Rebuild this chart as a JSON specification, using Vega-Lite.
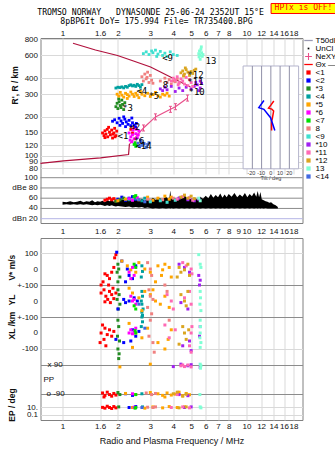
{
"$schema":"https://vega.github.io/schema/vega-lite/v6.json",
"background":"white",
"padding":{"left":6.5,"top":2,"right":0,"bottom":0},
"config":{
 "view":{"stroke":"#808080","strokeWidth":1},
 "font":"Liberation Sans",
 "axis":{"labelFont":"Liberation Sans","labelFontSize":8,"labelColor":"#111","titleFont":"Liberation Sans","titleColor":"#111","domain":false,"ticks":false,"gridColor":"#d9d9d9","gridWidth":1,"labelPadding":2}
},
"datasets":{
 "hbox":[{"f":13.6,"f2":31,"h":1271,"h2":1520}],
 "htxt":[{"f":20.4,"h":1390,"txt":"HPTx is OFF!"}],
 "hdr":[{"f":3.01,"h":1283,"txt":"TROMSO NORWAY\u00a0\u00a0\u00a0DYNASONDE 25-06-24 2352UT 15°E"},{"f":3.24,"h":1091,"txt":"8pBP6It DoY= 175.994 File= TR735400.BPG"}],
 "rt":[{"f":0.55,"h":352,"txt":"R', R / km"}],
 "prof":[
  {"s":"top","o":1,"f":1.14,"h":746},{"s":"top","o":2,"f":1.51,"h":662},{"s":"top","o":3,"f":1.99,"h":600},{"s":"top","o":4,"f":2.43,"h":543},{"s":"top","o":5,"f":3.01,"h":488},{"s":"top","o":6,"f":3.86,"h":408},{"s":"top","o":7,"f":4.96,"h":341},
  {"s":"low","o":1,"f":0.759,"h":87},{"s":"low","o":2,"f":1.013,"h":91},{"s":"low","o":3,"f":1.609,"h":96},{"s":"low","o":4,"f":2.285,"h":102},{"s":"low","o":5,"f":2.31,"h":123}
 ],
 "ne":[{"o":1,"f":2.31,"h":123},{"o":2,"f":2.755,"h":164},{"o":3,"f":3.2,"h":200},{"o":4,"f":3.86,"h":229},{"o":5,"f":4.11,"h":240},{"o":6,"f":4.78,"h":280}],
 "nem":[{"f":2.755,"h":164},{"f":3.2,"h":200},{"f":3.86,"h":229},{"f":4.11,"h":240},{"f":4.78,"h":280}],
 "pts":[
  {"c":"<1","f":1.65,"h":150},{"c":"<1","f":1.68,"h":143},{"c":"<1","f":1.7,"h":156},{"c":"<1","f":1.72,"h":147},{"c":"<1","f":1.75,"h":160},{"c":"<1","f":1.76,"h":140},{"c":"<1","f":1.8,"h":152},{"c":"<1","f":1.82,"h":145},{"c":"<1","f":1.85,"h":158},{"c":"<1","f":1.87,"h":137},{"c":"<1","f":1.9,"h":150},{"c":"<1","f":1.92,"h":163},{"c":"<1","f":1.95,"h":143},{"c":"<1","f":1.97,"h":155},{"c":"<1","f":1.78,"h":166},{"c":"<1","f":1.88,"h":147},{"c":"<1","f":1.7,"h":138},{"c":"<1","f":1.93,"h":140},{"c":"<1","f":2.35,"h":160},{"c":"<1","f":2.4,"h":150},{"c":"<1","f":2.45,"h":166},
  {"c":"<2","f":1.87,"h":185},{"c":"<2","f":1.92,"h":190},{"c":"<2","f":1.98,"h":180},{"c":"<2","f":2.03,"h":195},{"c":"<2","f":2.08,"h":186},{"c":"<2","f":2.12,"h":178},{"c":"<2","f":2.18,"h":192},{"c":"<2","f":2.22,"h":183},{"c":"<2","f":2.27,"h":175},{"c":"<2","f":2.3,"h":188},{"c":"<2","f":2.35,"h":171},{"c":"<2","f":2.4,"h":180},{"c":"<2","f":2.45,"h":173},{"c":"<2","f":2.5,"h":167},{"c":"<2","f":2.2,"h":168},{"c":"<2","f":2.05,"h":172},{"c":"<2","f":2.15,"h":200},{"c":"<2","f":2.38,"h":196},{"c":"<2","f":2.52,"h":178},
  {"c":"*3","f":1.95,"h":240},{"c":"*3","f":1.98,"h":255},{"c":"*3","f":2.0,"h":232},{"c":"*3","f":2.03,"h":262},{"c":"*3","f":2.06,"h":245},{"c":"*3","f":2.1,"h":270},{"c":"*3","f":2.12,"h":250},{"c":"*3","f":2.15,"h":228},{"c":"*3","f":2.08,"h":236},{"c":"*3","f":2.18,"h":258},{"c":"*3","f":2.02,"h":276},
  {"c":"<4","f":1.95,"h":335},{"c":"<4","f":2.0,"h":340},{"c":"<4","f":2.05,"h":338},{"c":"<4","f":2.1,"h":342},{"c":"<4","f":2.15,"h":336},{"c":"<4","f":2.2,"h":345},{"c":"<4","f":2.25,"h":340},{"c":"<4","f":2.3,"h":350},{"c":"<4","f":2.35,"h":355},{"c":"<4","f":2.4,"h":348},{"c":"<4","f":2.45,"h":352},{"c":"<4","f":2.5,"h":345},{"c":"<4","f":2.55,"h":358},{"c":"<4","f":2.6,"h":350},{"c":"<4","f":2.65,"h":340},{"c":"<4","f":2.7,"h":356},
  {"c":"*5","f":1.98,"h":300},{"c":"*5","f":2.02,"h":290},{"c":"*5","f":2.06,"h":310},{"c":"*5","f":2.1,"h":295},{"c":"*5","f":2.15,"h":285},{"c":"*5","f":2.2,"h":305},{"c":"*5","f":2.25,"h":298},{"c":"*5","f":2.3,"h":290},{"c":"*5","f":2.35,"h":312},{"c":"*5","f":2.4,"h":300},{"c":"*5","f":2.45,"h":288},{"c":"*5","f":2.5,"h":305},{"c":"*5","f":2.55,"h":295},{"c":"*5","f":2.6,"h":282},{"c":"*5","f":2.7,"h":300},{"c":"*5","f":2.8,"h":292},{"c":"*5","f":2.9,"h":305},{"c":"*5","f":3.0,"h":288},{"c":"*5","f":3.1,"h":298},{"c":"*5","f":3.2,"h":310},{"c":"*5","f":3.3,"h":292},{"c":"*5","f":3.4,"h":285},{"c":"*5","f":3.5,"h":300},{"c":"*5","f":3.6,"h":295},{"c":"*5","f":3.7,"h":305},{"c":"*5","f":3.8,"h":290},{"c":"*5","f":2.25,"h":278},{"c":"*5","f":2.65,"h":315},
  {"c":"*6","f":2.3,"h":150},{"c":"*6","f":2.35,"h":140},{"c":"*6","f":2.4,"h":145},{"c":"*6","f":2.45,"h":135},{"c":"*6","f":2.5,"h":148},{"c":"*6","f":2.55,"h":138},{"c":"*6","f":2.6,"h":155},{"c":"*6","f":2.38,"h":128},{"c":"*6","f":2.42,"h":158},{"c":"*6","f":2.48,"h":125},{"c":"*6","f":2.33,"h":132},{"c":"*6","f":2.58,"h":145},{"c":"*6","f":2.52,"h":160},
  {"c":"<7","f":2.45,"h":122},{"c":"<7","f":2.5,"h":118},{"c":"<7","f":2.48,"h":126},{"c":"<7","f":2.52,"h":121},
  {"c":"8","f":2.7,"h":410},{"c":"8","f":2.75,"h":380},{"c":"8","f":2.8,"h":430},{"c":"8","f":2.85,"h":395},{"c":"8","f":2.9,"h":445},{"c":"8","f":2.95,"h":370},{"c":"8","f":3.0,"h":420},{"c":"8","f":3.05,"h":385},{"c":"8","f":3.1,"h":365},{"c":"8","f":2.88,"h":405},{"c":"8","f":3.7,"h":370},{"c":"8","f":3.8,"h":390},{"c":"8","f":3.9,"h":360},{"c":"8","f":4.0,"h":380},{"c":"8","f":4.1,"h":375},{"c":"8","f":4.2,"h":395},{"c":"8","f":4.3,"h":365},{"c":"8","f":3.6,"h":400},{"c":"8","f":3.4,"h":380},
  {"c":"<9","f":2.75,"h":620},{"c":"<9","f":2.85,"h":640},{"c":"<9","f":2.95,"h":610},{"c":"<9","f":3.05,"h":650},{"c":"<9","f":3.1,"h":630},{"c":"<9","f":3.2,"h":660},{"c":"<9","f":3.3,"h":615},{"c":"<9","f":3.4,"h":645},{"c":"<9","f":3.5,"h":600},{"c":"<9","f":3.6,"h":625},{"c":"<9","f":3.7,"h":590},{"c":"<9","f":3.85,"h":640},{"c":"<9","f":4.0,"h":610},{"c":"<9","f":4.2,"h":600},{"c":"<9","f":3.25,"h":590},
  {"c":"*10","f":3.4,"h":330},{"c":"*10","f":3.5,"h":320},{"c":"*10","f":3.6,"h":340},{"c":"*10","f":3.7,"h":325},{"c":"*10","f":3.9,"h":345},{"c":"*10","f":4.1,"h":315},{"c":"*10","f":4.3,"h":335},{"c":"*10","f":4.5,"h":320},{"c":"*10","f":4.7,"h":340},{"c":"*10","f":5.0,"h":330},{"c":"*10","f":5.2,"h":345},{"c":"*10","f":5.4,"h":355},{"c":"*10","f":5.5,"h":320},{"c":"*10","f":5.6,"h":335},{"c":"*10","f":5.7,"h":365},{"c":"*10","f":5.3,"h":370},{"c":"*10","f":5.6,"h":380},
  {"c":"*11","f":4.0,"h":400},{"c":"*11","f":4.1,"h":385},{"c":"*11","f":4.2,"h":410},{"c":"*11","f":4.3,"h":370},{"c":"*11","f":4.4,"h":395},{"c":"*11","f":4.5,"h":380},{"c":"*11","f":4.6,"h":360},{"c":"*11","f":4.7,"h":405},{"c":"*11","f":4.8,"h":350},{"c":"*11","f":4.9,"h":390},{"c":"*11","f":5.0,"h":370},{"c":"*11","f":5.1,"h":345},{"c":"*11","f":4.25,"h":355},{"c":"*11","f":4.55,"h":420},{"c":"*11","f":3.9,"h":380},
  {"c":"*12","f":4.4,"h":440},{"c":"*12","f":4.5,"h":455},{"c":"*12","f":4.6,"h":430},{"c":"*12","f":4.7,"h":465},{"c":"*12","f":4.8,"h":445},{"c":"*12","f":4.9,"h":420},{"c":"*12","f":5.0,"h":450},{"c":"*12","f":5.1,"h":435},{"c":"*12","f":5.2,"h":460},{"c":"*12","f":4.55,"h":415},{"c":"*12","f":5.3,"h":470},{"c":"*12","f":4.65,"h":480},
  {"c":"13","f":5.5,"h":620},{"c":"13","f":5.55,"h":650},{"c":"13","f":5.6,"h":600},{"c":"13","f":5.65,"h":670},{"c":"13","f":5.7,"h":630},{"c":"13","f":5.75,"h":590},{"c":"13","f":5.6,"h":560},{"c":"13","f":5.52,"h":585},{"c":"13","f":5.8,"h":610},{"c":"13","f":5.68,"h":700},
  {"c":"<14","f":2.58,"h":125},{"c":"<14","f":2.62,"h":118},{"c":"<14","f":2.68,"h":128},{"c":"<14","f":2.72,"h":120},{"c":"<14","f":2.78,"h":124},{"c":"<14","f":2.85,"h":116},{"c":"<14","f":2.9,"h":122},{"c":"<14","f":2.95,"h":126},{"c":"<14","f":2.65,"h":132}
 ],
 "lbl":[{"t":"<1","f":1.99,"h":142},{"t":"<2","f":2.31,"h":167},{"t":"*3","f":2.11,"h":236},{"t":"<4","f":2.52,"h":315},{"t":"*5","f":2.93,"h":290},{"t":"*6","f":2.43,"h":131},{"t":"<14","f":2.49,"h":118},{"t":"8","f":3.5,"h":354},{"t":"<9","f":3.48,"h":576},{"t":"*10","f":4.84,"h":314},{"t":"*11","f":4.77,"h":375},{"t":"*12","f":4.77,"h":423},{"t":"13","f":5.99,"h":548}],
 "ibox":[{"t":-30,"t2":30,"h":79,"h2":497}],
 "igrid":[{"t":-20,"h":79,"h2":497},{"t":-10,"h":79,"h2":497},{"t":0,"h":79,"h2":497},{"t":10,"h":79,"h2":497},{"t":20,"h":79,"h2":497}],
 "itxt":[{"t":-21,"h":73.7,"txt":"-20"},{"t":-10.5,"h":73.7,"txt":"-10"},{"t":0,"h":73.7,"txt":"0"},{"t":10,"h":73.7,"txt":"10"},{"t":20,"h":73.7,"txt":"20"},{"t":0,"h":67.6,"txt":"Tilt / deg"}],
 "tilt":[
  {"s":"x","o":1,"t":3.2,"h":266},{"s":"x","o":2,"t":0,"h":247},{"s":"x","o":3,"t":-2.5,"h":234},{"s":"x","o":4,"t":1,"h":230},{"s":"x","o":5,"t":3,"h":222},{"s":"x","o":6,"t":1.5,"h":192},{"s":"x","o":7,"t":0.8,"h":186},{"s":"x","o":8,"t":0.8,"h":157},
  {"s":"y","o":1,"t":-7.5,"h":268},{"s":"y","o":2,"t":-13,"h":236},{"s":"y","o":3,"t":-7.5,"h":229},{"s":"y","o":4,"t":-0.3,"h":197},{"s":"y","o":5,"t":4.3,"h":157}
 ],
 "dgrid":[{"v":100,"k":"d","f":0.759,"f2":20.15},{"v":80,"k":"d","f":0.759,"f2":20.15},{"v":60,"k":"d","f":0.759,"f2":20.15},{"v":40,"k":"d","f":0.759,"f2":20.15},{"v":20,"k":"n","f":0.759,"f2":20.15}],
 "dlab":[{"v":100,"f":0.733,"txt":"100"},{"v":80,"f":0.733,"txt":"dBe 80"},{"v":60,"f":0.733,"txt":"60"},{"v":40,"f":0.733,"txt":"40"},{"v":20,"f":0.733,"txt":"dBn 20"}],
 "noise":[
  {"f":1.0,"lo":47,"hi":53},{"f":1.05,"lo":48,"hi":52},{"f":1.1,"lo":47,"hi":54},{"f":1.15,"lo":48,"hi":52},{"f":1.2,"lo":47,"hi":53},{"f":1.25,"lo":48,"hi":55},{"f":1.3,"lo":47,"hi":52},{"f":1.35,"lo":48,"hi":54},{"f":1.4,"lo":47,"hi":53},{"f":1.45,"lo":46,"hi":56},{"f":1.5,"lo":47,"hi":52},{"f":1.55,"lo":46,"hi":54},{"f":1.6,"lo":47,"hi":53},{"f":1.65,"lo":46,"hi":55},{"f":1.7,"lo":45,"hi":52},{"f":1.75,"lo":46,"hi":56},{"f":1.8,"lo":45,"hi":54},{"f":1.85,"lo":46,"hi":57},{"f":1.9,"lo":45,"hi":53},{"f":1.95,"lo":44,"hi":56},{"f":2.0,"lo":45,"hi":54},{"f":2.1,"lo":44,"hi":58},{"f":2.2,"lo":43,"hi":55},{"f":2.3,"lo":44,"hi":57},{"f":2.4,"lo":42,"hi":54},{"f":2.5,"lo":43,"hi":58},{"f":2.6,"lo":42,"hi":55},{"f":2.7,"lo":43,"hi":59},{"f":2.8,"lo":41,"hi":55},{"f":2.9,"lo":42,"hi":60},{"f":3.0,"lo":41,"hi":56},{"f":3.1,"lo":40,"hi":61},{"f":3.2,"lo":41,"hi":57},{"f":3.35,"lo":40,"hi":60},{"f":3.5,"lo":41,"hi":58},{"f":3.65,"lo":40,"hi":63},{"f":3.8,"lo":41,"hi":57},{"f":3.85,"lo":40,"hi":75},{"f":3.9,"lo":41,"hi":59},{"f":4.0,"lo":40,"hi":62},{"f":4.15,"lo":41,"hi":58},{"f":4.3,"lo":40,"hi":64},{"f":4.45,"lo":41,"hi":59},{"f":4.6,"lo":40,"hi":66},{"f":4.75,"lo":41,"hi":60},{"f":4.9,"lo":40,"hi":63},{"f":5.05,"lo":41,"hi":58},{"f":5.2,"lo":40,"hi":61},{"f":5.4,"lo":41,"hi":57},{"f":5.6,"lo":40,"hi":63},{"f":5.8,"lo":41,"hi":59},{"f":6.0,"lo":40,"hi":65},{"f":6.2,"lo":41,"hi":60},{"f":6.4,"lo":40,"hi":68},{"f":6.6,"lo":41,"hi":61},{"f":6.8,"lo":40,"hi":66},{"f":7.0,"lo":41,"hi":62},{"f":7.2,"lo":40,"hi":69},{"f":7.4,"lo":41,"hi":61},{"f":7.6,"lo":40,"hi":67},{"f":7.8,"lo":41,"hi":62},{"f":8.0,"lo":40,"hi":68},{"f":8.3,"lo":41,"hi":63},{"f":8.6,"lo":40,"hi":70},{"f":8.9,"lo":41,"hi":62},{"f":9.2,"lo":40,"hi":67},{"f":9.5,"lo":41,"hi":63},{"f":9.8,"lo":40,"hi":70},{"f":10.1,"lo":41,"hi":62},{"f":10.4,"lo":40,"hi":68},{"f":10.7,"lo":41,"hi":64},{"f":11.0,"lo":40,"hi":71},{"f":11.3,"lo":41,"hi":63},{"f":11.5,"lo":40,"hi":74},{"f":11.7,"lo":41,"hi":62},{"f":11.9,"lo":40,"hi":72},{"f":12.1,"lo":41,"hi":58},{"f":12.4,"lo":40,"hi":56},{"f":12.7,"lo":41,"hi":54},{"f":13.0,"lo":40,"hi":53},{"f":13.3,"lo":40,"hi":51},{"f":13.6,"lo":40,"hi":52},{"f":14.0,"lo":40,"hi":48},{"f":14.4,"lo":40,"hi":46},{"f":14.8,"lo":40,"hi":43}
 ],
 "amp":[
  {"c":"<1","f":1.7,"a":56},{"c":"<1","f":1.75,"a":58},{"c":"<1","f":1.8,"a":60},{"c":"<1","f":1.85,"a":57},{"c":"<1","f":1.9,"a":59},{"c":"<1","f":1.95,"a":55},
  {"c":"<2","f":2.0,"a":58},{"c":"<2","f":2.1,"a":62},{"c":"<2","f":2.2,"a":56},{"c":"<2","f":2.3,"a":60},{"c":"<2","f":2.4,"a":63},{"c":"<2","f":2.5,"a":58},
  {"c":"*3","f":1.95,"a":54},{"c":"*3","f":2.05,"a":57},{"c":"*3","f":2.15,"a":60},
  {"c":"<4","f":2.3,"a":57},{"c":"<4","f":2.5,"a":59},{"c":"<4","f":2.7,"a":55},{"c":"<4","f":2.8,"a":60},
  {"c":"*5","f":2.0,"a":55},{"c":"*5","f":2.2,"a":58},{"c":"*5","f":2.6,"a":57},{"c":"*5","f":2.9,"a":62},{"c":"*5","f":3.1,"a":56},{"c":"*5","f":3.3,"a":60},{"c":"*5","f":3.6,"a":64},{"c":"*5","f":3.8,"a":58},{"c":"*5","f":3.9,"a":62},
  {"c":"*6","f":2.3,"a":59},{"c":"*6","f":2.4,"a":56},{"c":"*6","f":2.55,"a":61},
  {"c":"<7","f":2.45,"a":63},{"c":"<7","f":2.5,"a":65},
  {"c":"8","f":2.9,"a":58},{"c":"8","f":3.0,"a":55},{"c":"8","f":3.5,"a":57},{"c":"8","f":4.0,"a":60},
  {"c":"<9","f":3.0,"a":53},{"c":"<9","f":3.4,"a":55},{"c":"<9","f":3.7,"a":52},{"c":"<9","f":4.1,"a":56},
  {"c":"*10","f":4.3,"a":60},{"c":"*10","f":4.8,"a":57},{"c":"*10","f":5.2,"a":55},{"c":"*10","f":5.5,"a":58},
  {"c":"*11","f":4.2,"a":58},{"c":"*11","f":4.5,"a":63},{"c":"*11","f":4.9,"a":61},{"c":"*11","f":5.1,"a":56},
  {"c":"*12","f":4.4,"a":62},{"c":"*12","f":4.6,"a":66},{"c":"*12","f":4.8,"a":60},{"c":"*12","f":5.0,"a":64},{"c":"*12","f":5.2,"a":59},
  {"c":"13","f":5.5,"a":60},{"c":"13","f":5.6,"a":55},
  {"c":"<14","f":2.6,"a":57},{"c":"<14","f":2.8,"a":53}
 ],
 "low":[
  {"c":"<1","f":1.95,"u":490},{"c":"<1","f":1.92,"u":470},{"c":"<1","f":1.7,"u":370},{"c":"<1","f":1.75,"u":360},{"c":"<1","f":1.66,"u":320},{"c":"<1","f":1.62,"u":300},{"c":"<1","f":1.8,"u":340},{"c":"<1","f":1.85,"u":380},{"c":"<1","f":1.9,"u":410},{"c":"<1","f":1.78,"u":300},
  {"c":"<1","f":1.62,"u":250},{"c":"<1","f":1.68,"u":270},{"c":"<1","f":1.72,"u":230},{"c":"<1","f":1.76,"u":210},{"c":"<1","f":1.8,"u":260},{"c":"<1","f":1.85,"u":240},{"c":"<1","f":1.9,"u":215},{"c":"<1","f":1.95,"u":250},{"c":"<1","f":1.7,"u":195},{"c":"<1","f":1.88,"u":280},{"c":"<1","f":1.82,"u":190},
  {"c":"<1","f":1.65,"u":50},{"c":"<1","f":1.7,"u":30},{"c":"<1","f":1.75,"u":-10},{"c":"<1","f":1.8,"u":20},{"c":"<1","f":1.68,"u":-40},{"c":"<1","f":1.6,"u":-60},{"c":"<1","f":1.85,"u":-20},{"c":"<1","f":1.9,"u":10},{"c":"<1","f":1.72,"u":-80},{"c":"<1","f":1.62,"u":0},
  {"c":"<1","f":1.65,"u":-375},{"c":"<1","f":1.7,"u":-390},{"c":"<1","f":1.75,"u":-370},{"c":"<1","f":1.8,"u":-385},{"c":"<1","f":1.85,"u":-395},{"c":"<1","f":1.9,"u":-378},{"c":"<1","f":1.95,"u":-388},{"c":"<1","f":1.68,"u":-400},
  {"c":"<1","f":1.65,"u":-465},{"c":"<1","f":1.7,"u":-470},{"c":"<1","f":1.75,"u":-458},{"c":"<1","f":1.8,"u":-466},{"c":"<1","f":1.85,"u":-472},{"c":"<1","f":1.9,"u":-460},{"c":"<1","f":1.95,"u":-468},
  {"c":"*3","f":2.0,"u":430},{"c":"*3","f":2.02,"u":400},{"c":"*3","f":1.98,"u":380},{"c":"*3","f":2.05,"u":350},{"c":"*3","f":2.0,"u":320},{"c":"*3","f":2.0,"u":270},{"c":"*3","f":2.03,"u":240},{"c":"*3","f":1.98,"u":210},{"c":"*3","f":2.05,"u":180},{"c":"*3","f":2.01,"u":150},{"c":"*3","f":2.0,"u":80},{"c":"*3","f":2.02,"u":40},{"c":"*3","f":1.99,"u":-20},{"c":"*3","f":2.04,"u":-50},{"c":"*3","f":2.0,"u":-100},{"c":"*3","f":2.03,"u":-130},{"c":"*3","f":2.02,"u":-160},{"c":"*3","f":2.0,"u":-372},{"c":"*3","f":2.05,"u":-385},{"c":"*3","f":2.02,"u":-462},
  {"c":"<2","f":1.97,"u":505},{"c":"<2","f":2.1,"u":450},{"c":"<2","f":2.25,"u":400},{"c":"<2","f":2.3,"u":360},{"c":"<2","f":2.4,"u":340},{"c":"<2","f":2.5,"u":420},{"c":"<2","f":2.2,"u":320},{"c":"<2","f":2.15,"u":210},{"c":"<2","f":2.3,"u":200},{"c":"<2","f":2.2,"u":190},{"c":"<2","f":2.45,"u":220},{"c":"<2","f":2.55,"u":200},{"c":"<2","f":2.0,"u":150},{"c":"<2","f":2.4,"u":20},{"c":"<2","f":2.5,"u":-20},{"c":"<2","f":2.35,"u":-50},{"c":"<2","f":2.6,"u":10},{"c":"<2","f":2.15,"u":-60},{"c":"<2","f":1.95,"u":-40},{"c":"<2","f":2.2,"u":-380},{"c":"<2","f":2.4,"u":-390},{"c":"<2","f":2.3,"u":-466},{"c":"<2","f":2.5,"u":-460},
  {"c":"<4","f":2.7,"u":420},{"c":"<4","f":2.72,"u":385},{"c":"<4","f":2.68,"u":350},{"c":"<4","f":2.7,"u":260},{"c":"<4","f":2.72,"u":230},{"c":"<4","f":2.68,"u":200},{"c":"<4","f":2.7,"u":180},{"c":"<4","f":2.74,"u":150},{"c":"<4","f":2.7,"u":130},{"c":"<4","f":2.72,"u":110},{"c":"<4","f":2.7,"u":100},{"c":"<4","f":2.72,"u":70},{"c":"<4","f":2.68,"u":40},{"c":"<4","f":2.7,"u":-380},{"c":"<4","f":2.72,"u":-462},
  {"c":"*5","f":2.1,"u":450},{"c":"*5","f":2.25,"u":420},{"c":"*5","f":2.35,"u":395},{"c":"*5","f":2.5,"u":380},{"c":"*5","f":2.6,"u":440},{"c":"*5","f":2.8,"u":400},{"c":"*5","f":3.0,"u":380},{"c":"*5","f":3.3,"u":420},{"c":"*5","f":3.5,"u":395},{"c":"*5","f":3.6,"u":430},{"c":"*5","f":3.8,"u":410},{"c":"*5","f":3.9,"u":350},{"c":"*5","f":3.45,"u":360},{"c":"*5","f":3.2,"u":320},
  {"c":"*5","f":2.3,"u":280},{"c":"*5","f":2.4,"u":250},{"c":"*5","f":2.6,"u":220},{"c":"*5","f":2.8,"u":260},{"c":"*5","f":3.0,"u":240},{"c":"*5","f":3.2,"u":200},{"c":"*5","f":3.4,"u":180},{"c":"*5","f":3.6,"u":230},{"c":"*5","f":3.8,"u":160},{"c":"*5","f":2.7,"u":140},{"c":"*5","f":3.1,"u":270},
  {"c":"*5","f":2.3,"u":60},{"c":"*5","f":2.5,"u":0},{"c":"*5","f":2.7,"u":-30},{"c":"*5","f":2.9,"u":30},{"c":"*5","f":3.3,"u":-60},{"c":"*5","f":3.6,"u":-100},{"c":"*5","f":3.75,"u":-40},{"c":"*5","f":3.9,"u":20},{"c":"*5","f":2.4,"u":-90},
  {"c":"*5","f":2.05,"u":-212},{"c":"*5","f":3.0,"u":-195},
  {"c":"*5","f":2.2,"u":-378},{"c":"*5","f":2.5,"u":-385},{"c":"*5","f":3.0,"u":-372},{"c":"*5","f":3.3,"u":-380},{"c":"*5","f":3.5,"u":-390},{"c":"*5","f":3.7,"u":-375},{"c":"*5","f":3.9,"u":-388},{"c":"*5","f":3.6,"u":-400},{"c":"*5","f":4.1,"u":-382},{"c":"*5","f":4.3,"u":-370},{"c":"*5","f":4.5,"u":-392},{"c":"*5","f":4.7,"u":-378},{"c":"*5","f":4.9,"u":-386},
  {"c":"*5","f":2.4,"u":-466},{"c":"*5","f":2.8,"u":-470},{"c":"*5","f":3.1,"u":-462},{"c":"*5","f":3.5,"u":-468},{"c":"*5","f":3.8,"u":-460},{"c":"*5","f":4.2,"u":-466},{"c":"*5","f":4.6,"u":-462},
  {"c":"*6","f":2.3,"u":380},{"c":"*6","f":2.4,"u":410},{"c":"*6","f":2.45,"u":360},{"c":"*6","f":2.35,"u":340},{"c":"*6","f":2.35,"u":230},{"c":"*6","f":2.4,"u":200},{"c":"*6","f":2.5,"u":180},{"c":"*6","f":2.45,"u":210},{"c":"*6","f":2.35,"u":20},{"c":"*6","f":2.45,"u":10},{"c":"*6","f":2.4,"u":-5},{"c":"*6","f":2.5,"u":30},{"c":"*6","f":2.3,"u":0},{"c":"*6","f":2.4,"u":-380},{"c":"*6","f":2.45,"u":-464},
  {"c":"<7","f":2.45,"u":430},{"c":"<7","f":2.5,"u":410},{"c":"<7","f":2.45,"u":170},{"c":"<7","f":2.5,"u":150},{"c":"<7","f":2.48,"u":15},{"c":"<7","f":2.5,"u":0},{"c":"<7","f":2.5,"u":-385},{"c":"<7","f":2.5,"u":-466},{"c":"<7","f":2.48,"u":-470},
  {"c":"8","f":2.9,"u":440},{"c":"8","f":3.0,"u":400},{"c":"8","f":3.05,"u":360},{"c":"8","f":2.95,"u":270},{"c":"8","f":3.0,"u":230},{"c":"8","f":3.1,"u":210},{"c":"8","f":2.9,"u":160},{"c":"8","f":3.05,"u":120},{"c":"8","f":3.0,"u":80},{"c":"8","f":2.95,"u":-20},{"c":"8","f":3.1,"u":-60},{"c":"8","f":3.15,"u":-120},{"c":"8","f":2.85,"u":-375},{"c":"8","f":3.05,"u":-385},{"c":"8","f":3.2,"u":-378},{"c":"8","f":2.9,"u":-464},{"c":"8","f":3.1,"u":-466},{"c":"8","f":3.2,"u":-462},{"c":"8","f":3.6,"u":300},{"c":"8","f":3.7,"u":260},{"c":"8","f":3.8,"u":80},
  {"c":"*10","f":4.3,"u":430},{"c":"*10","f":4.6,"u":410},{"c":"*10","f":4.9,"u":380},{"c":"*10","f":5.5,"u":360},{"c":"*10","f":5.6,"u":330},{"c":"*10","f":5.55,"u":300},{"c":"*10","f":4.4,"u":190},{"c":"*10","f":4.8,"u":150},{"c":"*10","f":4.5,"u":-80},{"c":"*10","f":4.9,"u":-50},{"c":"*10","f":5.0,"u":-110},{"c":"*10","f":5.6,"u":40},{"c":"*10","f":5.55,"u":-20},{"c":"*10","f":4.0,"u":-210},{"c":"*10","f":4.4,"u":-195},{"c":"*10","f":4.8,"u":-205},{"c":"*10","f":5.0,"u":-198},{"c":"*10","f":5.6,"u":-215},{"c":"*10","f":4.3,"u":-385},{"c":"*10","f":4.8,"u":-392},{"c":"*10","f":4.6,"u":-466},{"c":"*10","f":5.0,"u":-462},
  {"c":"*11","f":4.7,"u":420},{"c":"*11","f":5.0,"u":400},{"c":"*11","f":5.05,"u":370},{"c":"*11","f":4.5,"u":440},{"c":"*11","f":4.6,"u":220},{"c":"*11","f":4.9,"u":260},{"c":"*11","f":5.0,"u":180},{"c":"*11","f":3.7,"u":240},{"c":"*11","f":3.9,"u":200},{"c":"*11","f":4.0,"u":150},{"c":"*11","f":3.8,"u":-30},{"c":"*11","f":4.1,"u":20},{"c":"*11","f":4.9,"u":-80},{"c":"*11","f":5.0,"u":0},{"c":"*11","f":5.05,"u":40},{"c":"*11","f":5.0,"u":-120},{"c":"*11","f":3.6,"u":50},{"c":"*11","f":4.5,"u":-200},{"c":"*11","f":4.6,"u":-210},{"c":"*11","f":4.8,"u":-200},{"c":"*11","f":5.0,"u":-212},{"c":"*11","f":4.4,"u":-205},{"c":"*11","f":4.2,"u":-385},{"c":"*11","f":4.5,"u":-462},{"c":"*11","f":4.9,"u":-468},{"c":"*11","f":3.9,"u":-466},
  {"c":"*12","f":4.3,"u":410},{"c":"*12","f":4.4,"u":380},{"c":"*12","f":4.6,"u":395},{"c":"*12","f":4.8,"u":430},{"c":"*12","f":4.9,"u":360},{"c":"*12","f":4.2,"u":350},{"c":"*12","f":4.4,"u":240},{"c":"*12","f":4.6,"u":200},{"c":"*12","f":4.7,"u":170},{"c":"*12","f":4.8,"u":260},{"c":"*12","f":4.5,"u":40},{"c":"*12","f":4.6,"u":0},{"c":"*12","f":4.7,"u":-40},{"c":"*12","f":4.3,"u":-70},{"c":"*12","f":4.85,"u":20},{"c":"*12","f":4.0,"u":-380},{"c":"*12","f":4.2,"u":-370},{"c":"*12","f":4.5,"u":-395},{"c":"*12","f":4.7,"u":-383},{"c":"*12","f":4.3,"u":-468},{"c":"*12","f":4.7,"u":-462},
  {"c":"13","f":5.5,"u":490},{"c":"13","f":5.6,"u":430},{"c":"13","f":5.65,"u":410},{"c":"13","f":5.6,"u":260},{"c":"13","f":5.62,"u":220},{"c":"13","f":5.58,"u":180},{"c":"13","f":5.65,"u":140},{"c":"13","f":5.6,"u":80},{"c":"13","f":5.62,"u":40},{"c":"13","f":5.6,"u":0},{"c":"13","f":5.58,"u":-30},{"c":"13","f":5.65,"u":-60},{"c":"13","f":5.6,"u":-90},{"c":"13","f":5.6,"u":-195},{"c":"13","f":5.65,"u":-205},{"c":"13","f":5.62,"u":-220},{"c":"13","f":5.58,"u":-385},{"c":"13","f":5.6,"u":-462},{"c":"13","f":5.65,"u":-468},
  {"c":"<14","f":2.6,"u":180},{"c":"<14","f":2.8,"u":30},{"c":"<14","f":2.7,"u":-466}
 ],
 "ltxt":[{"f":0.829,"u":-203,"txt":"x 90"},{"f":0.788,"u":-296,"txt":"PP"},{"f":0.818,"u":-383,"txt":"o -90"}],
 "lrot":[{"f":0.528,"u":356,"txt":"V*"},{"f":0.528,"u":444,"txt":"m/s"},{"f":0.528,"u":206,"txt":"YL"},{"f":0.528,"u":88,"txt":"/km"},{"f":0.528,"u":-6,"txt":"XL"},{"f":0.528,"u":-450,"txt":"EP / deg"}]
},
"vconcat":[
 {"width":262,"height":185,
  "layer":[
   {"encoding":{
     "x":{"field":"f","type":"quantitative","scale":{"type":"log","domain":[0.759,20.15],"nice":false},"axis":{"orient":"top","values":[1,1.6,2,3,4,5,6,7,8,10,12,14,16,18],"format":"~g","labelOverlap":false,"labelFlush":false,"grid":true,"labelPadding":1,"title":null}},
     "y":{"field":"h","type":"quantitative","scale":{"type":"log","domain":[72,820],"range":[136,0],"nice":false},"axis":{"orient":"left","values":[80,90,100,120,150,200,300,400,600,800],"format":"~g","labelOverlap":false,"labelFlush":false,"grid":true,"labelPadding":3,"title":null}}},
    "layer":[
     {"data":{"name":"hbox"},"mark":{"type":"rect","fill":"#ffff00","stroke":"#ff0000","strokeWidth":1},"encoding":{"x2":{"field":"f2"},"y2":{"field":"h2"}}},
     {"data":{"name":"htxt"},"mark":{"type":"text","font":"DejaVu Sans Mono","fontSize":8,"color":"#ff0000"},"encoding":{"text":{"field":"txt"}}},
     {"data":{"name":"hdr"},"mark":{"type":"text","font":"DejaVu Sans Mono","fontSize":8.2,"color":"#000000"},"encoding":{"text":{"field":"txt"}}},
     {"data":{"name":"rt"},"mark":{"type":"text","font":"Liberation Sans","fontSize":8.5,"fontWeight":"bold","angle":270,"color":"#111"},"encoding":{"text":{"field":"txt"}}},
     {"data":{"name":"prof"},"mark":{"type":"line","color":"#b0103c","strokeWidth":1.2},"encoding":{"detail":{"field":"s"},"order":{"field":"o"}}},
     {"data":{"name":"ne"},"mark":{"type":"line","color":"#e8508a","strokeWidth":1.2},"encoding":{"order":{"field":"o"}}},
     {"data":{"name":"nem"},"mark":{"type":"point","shape":"M0,-1V1M-0.5,-1H0.5M-0.5,1H0.5","filled":false,"color":"#e8508a","size":36,"strokeWidth":1,"opacity":1},"encoding":{}},
     {"data":{"name":"pts"},"mark":{"type":"point","filled":true,"size":8,"opacity":1,"strokeWidth":0},
      "encoding":{
       "color":{"field":"c","type":"nominal","scale":{"domain":["T50dB","UnCl","NeXYZ","Θx —Θy","<1","<2","*3","<4","*5","*6","<7","8","<9","*10","*11","*12","13","<14"],"range":["#9a9ab4","#000000","#e8508a","#ff0000","#ff0000","#0000ff","#228b22","#00a0a0","#ffa500","#ff00ff","#00e000","#f08080","#40e0d0","#a020f0","#ff69b4","#daa520","#7fffd4","#4169e1"]},
         "legend":{"title":null,"orient":"none","legendX":264,"legendY":-1.5,"labelFont":"Liberation Sans","labelFontSize":8,"labelColor":"#000","symbolSize":18,"rowPadding":0,"padding":0,"labelOffset":3,"symbolStrokeWidth":0,"symbolOpacity":1}},
       "shape":{"field":"c","type":"nominal","scale":{"domain":["T50dB","UnCl","NeXYZ","Θx —Θy","<1","<2","*3","<4","*5","*6","<7","8","<9","*10","*11","*12","13","<14"],"range":["M-2,-0.3H2V0.3H-2Z","M-0.4,-0.4H0.4V0.4H-0.4Z","M-1.6,-0.25H1.6V0.25H-1.6ZM-0.25,-1.6H0.25V1.6H-0.25Z","M-2,-0.3H2V0.3H-2Z","square","square","square","square","square","square","square","square","square","square","square","square","square","square"]},
         "legend":{"title":null,"orient":"none","legendX":264,"legendY":-1.5,"labelFont":"Liberation Sans","labelFontSize":8,"labelColor":"#000","symbolSize":18,"rowPadding":0,"padding":0,"labelOffset":3,"symbolStrokeWidth":0,"symbolOpacity":1}}}},
     {"data":{"name":"lbl"},"mark":{"type":"text","font":"DejaVu Sans Mono","fontSize":9,"align":"left","color":"#000"},"encoding":{"text":{"field":"t"}}}
    ]},
   {"encoding":{
     "x":{"field":"t","type":"quantitative","scale":{"domain":[-30,30],"range":[202.6,258.1],"nice":false,"zero":false},"axis":null},
     "y":{"field":"h","type":"quantitative","scale":{"type":"log","domain":[72,820],"range":[136,0],"nice":false},"axis":null}},
    "layer":[
     {"data":{"name":"ibox"},"mark":{"type":"rect","fill":"#ffffff","stroke":"#b4b4cc","strokeWidth":1},"encoding":{"x2":{"field":"t2"},"y2":{"field":"h2"}}},
     {"data":{"name":"igrid"},"mark":{"type":"rule","color":"#9090a8","strokeWidth":1},"encoding":{"y2":{"field":"h2"}}},
     {"data":{"name":"tilt"},"transform":[{"filter":"datum.s=='x'"}],"mark":{"type":"line","color":"#ff0000","strokeWidth":1.5},"encoding":{"order":{"field":"o"}}},
     {"data":{"name":"tilt"},"transform":[{"filter":"datum.s=='y'"}],"mark":{"type":"line","color":"#0000ff","strokeWidth":1.5},"encoding":{"order":{"field":"o"}}},
     {"data":{"name":"itxt"},"mark":{"type":"text","font":"Liberation Sans","fontSize":5.5,"color":"#333"},"encoding":{"text":{"field":"txt"}}}
    ]},
   {"encoding":{
     "x":{"field":"f","type":"quantitative","scale":{"type":"log","domain":[0.759,20.15],"nice":false},"axis":{"orient":"bottom","values":[1,1.6,2,3,4,5,6,7,8,9,10,12,14,16,18],"format":"~g","labelOverlap":false,"labelFlush":false,"grid":false,"labelPadding":4,"title":null}},
     "y":{"field":"v","type":"quantitative","scale":{"domain":[11.6,107.2],"range":[185,136],"nice":false,"zero":false},"axis":null}},
    "layer":[
     {"data":{"name":"dgrid"},"transform":[{"filter":"datum.k=='d'"}],"mark":{"type":"rule","color":"#8c8c8c","strokeWidth":1},"encoding":{"x2":{"field":"f2"}}},
     {"data":{"name":"dgrid"},"transform":[{"filter":"datum.k=='n'"}],"mark":{"type":"rule","color":"#b4b4e6","strokeWidth":1},"encoding":{"x2":{"field":"f2"}}},
     {"data":{"name":"noise"},"mark":{"type":"area","color":"#000000","interpolate":"linear"},"encoding":{"y":{"field":"hi","type":"quantitative","scale":{"domain":[11.6,107.2],"range":[185,136],"nice":false,"zero":false},"axis":null},"y2":{"field":"lo"}}},
     {"data":{"name":"amp"},"mark":{"type":"point","filled":true,"shape":"square","size":9,"opacity":1,"strokeWidth":0},"encoding":{"y":{"field":"a","type":"quantitative","scale":{"domain":[11.6,107.2],"range":[185,136],"nice":false,"zero":false},"axis":null},
       "color":{"field":"c","type":"nominal","scale":{"domain":["T50dB","UnCl","NeXYZ","Θx —Θy","<1","<2","*3","<4","*5","*6","<7","8","<9","*10","*11","*12","13","<14"],"range":["#9a9ab4","#000000","#e8508a","#ff0000","#ff0000","#0000ff","#228b22","#00a0a0","#ffa500","#ff00ff","#00e000","#f08080","#40e0d0","#a020f0","#ff69b4","#daa520","#7fffd4","#4169e1"]},"legend":null}}},
     {"data":{"name":"dlab"},"mark":{"type":"text","font":"Liberation Sans","fontSize":8,"align":"right","color":"#111"},"encoding":{"text":{"field":"txt"}}}
    ]}
  ],
  "resolve":{"scale":{"x":"independent","y":"independent"},"axis":{"x":"independent","y":"independent"}}
 },
 {"width":262,"height":182,
  "encoding":{
   "x":{"field":"f","type":"quantitative","scale":{"type":"log","domain":[0.759,20.15],"nice":false},"axis":{"orient":"bottom","values":[1,1.6,2,3,4,5,6,7,8,10,12,14,16,18],"format":"~g","labelOverlap":false,"labelFlush":false,"grid":true,"labelPadding":2,"title":"Radio and Plasma Frequency / MHz","titleFontSize":9,"titleFontWeight":"normal","titlePadding":6}},
   "y":{"field":"u","type":"quantitative","scale":{"domain":[-544,594],"nice":false,"zero":false},"axis":{"values":[500,400,300,200,100,0,-100,-200,-380,-464,-510],"labelExpr":"datum.value==500?'100':(datum.value==300||datum.value==100)?'+-100':datum.value==-100?'-100':datum.value==-464?'10.':datum.value==-510?'0.1':(datum.value==400||datum.value==200||datum.value==0)?'0':''","grid":true,"gridColor":{"condition":{"test":"datum.value==300||datum.value==100||datum.value==-200||datum.value==-380","value":"#8c8c8c"},"value":"#d9d9d9"},"gridOpacity":{"condition":{"test":"datum.value==400||datum.value==200||datum.value==0","value":0},"value":1},"labelPadding":3,"title":null,"labelOverlap":false,"labelFlush":false}}},
  "layer":[
   {"data":{"name":"low"},"mark":{"type":"point","filled":true,"shape":"square","size":9,"opacity":1,"strokeWidth":0},"encoding":{
     "color":{"field":"c","type":"nominal","scale":{"domain":["T50dB","UnCl","NeXYZ","Θx —Θy","<1","<2","*3","<4","*5","*6","<7","8","<9","*10","*11","*12","13","<14"],"range":["#9a9ab4","#000000","#e8508a","#ff0000","#ff0000","#0000ff","#228b22","#00a0a0","#ffa500","#ff00ff","#00e000","#f08080","#40e0d0","#a020f0","#ff69b4","#daa520","#7fffd4","#4169e1"]},"legend":null}}},
   {"data":{"name":"ltxt"},"mark":{"type":"text","font":"Liberation Sans","fontSize":8,"align":"left","color":"#111"},"encoding":{"text":{"field":"txt"}}},
   {"data":{"name":"lrot"},"mark":{"type":"text","font":"Liberation Sans","fontSize":8.5,"fontWeight":"bold","angle":270,"color":"#111"},"encoding":{"text":{"field":"txt"}}}
  ]}
],
"spacing":15,
"bounds":"flush",
"resolve":{"scale":{"x":"independent","y":"independent","color":"shared","shape":"shared"}}
}
